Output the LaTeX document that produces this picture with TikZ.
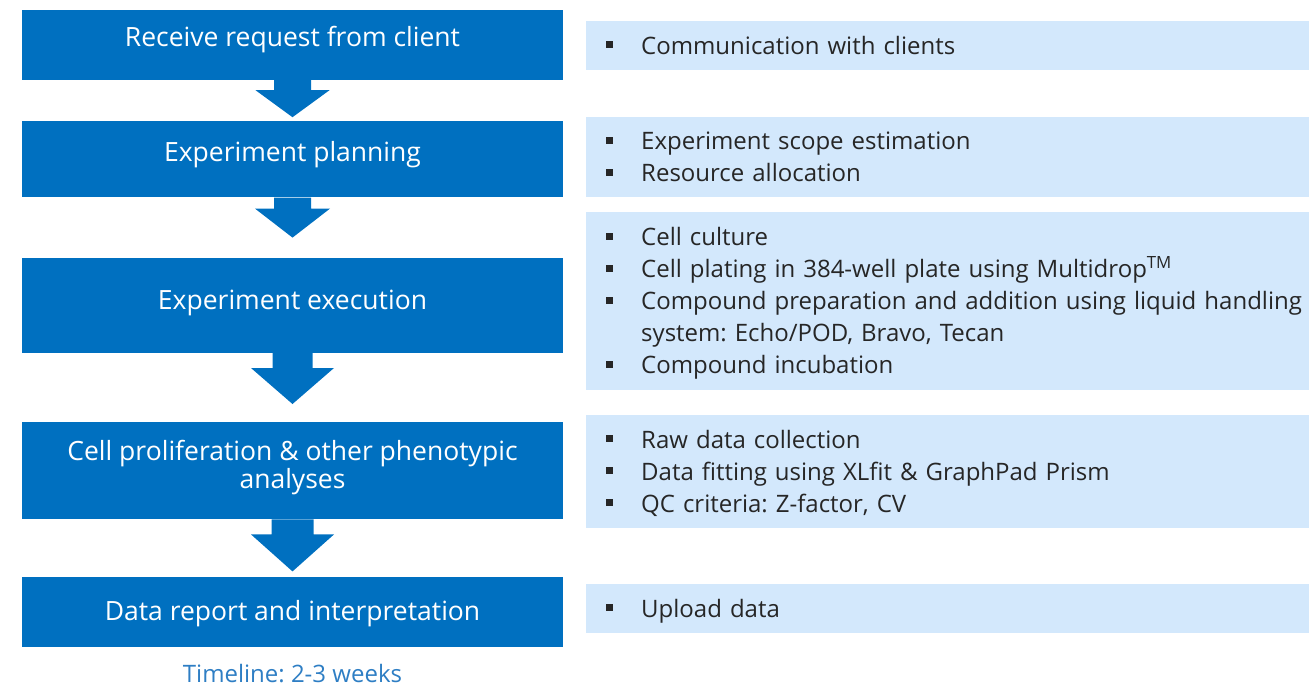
\documentclass[tikz,border=0pt]{standalone}
\usepackage{fontspec}
\setmainfont{Open Sans}
\frenchspacing
\usetikzlibrary{positioning}

\definecolor{stageblue}{RGB}{0,112,192}
\definecolor{infoblue}{RGB}{211,232,252}
\definecolor{timeblue}{RGB}{46,126,196}

\newcommand{\sqbullet}{\makebox[35pt][l]{\rule[6pt]{7pt}{7pt}}}
\newcommand{\sqindent}{\hspace*{35pt}}
\newcommand{\infostrut}{\rule[-7pt]{0pt}{31pt}}
\newcommand{\stagestrut}{\rule[-12pt]{0pt}{32pt}}

\tikzset{
  stagebox/.style={fill=stageblue, text=white, minimum width=541pt, inner sep=0pt, align=center, font=\fontsize{26.5}{28}\selectfont},
  oneline/.style={text height=20pt, text depth=#1},
  oneline/.default=12pt,
  twoline/.style={execute at begin node=\stagestrut, execute at end node=\stagestrut},
  infobox/.style={fill=infoblue, text=black!85, anchor=north west, minimum width=723pt, text width=683pt, inner xsep=20pt, inner ysep=0pt, align=left,
    font=\fontsize{24}{32}\selectfont, execute at begin node=\infostrut, execute at end node=\infostrut},
  timeline/.style={text=timeblue, inner sep=0pt, font=\fontsize{24}{28}\selectfont},
  flowarrow/.style n args={3}{fill=stageblue, to path={
    ([xshift=-#1]\tikztostart) -- ([xshift=-#1,yshift=#3]\tikztotarget) -- ([xshift=-#2,yshift=#3]\tikztotarget) -- (\tikztotarget)
    -- ([xshift=#2,yshift=#3]\tikztotarget) -- ([xshift=#1,yshift=#3]\tikztotarget) -- ([xshift=#1]\tikztostart) -- cycle}}
}

\begin{document}
\begin{tikzpicture}[x=1pt, y=-1pt]
  \useasboundingbox (0,0) rectangle (1309,686);

  % workflow stages
  \node[stagebox, oneline=17pt, minimum height=70pt] (receive) at (292.5,45) {Receive request from client};
  \node[stagebox, oneline=15pt, minimum height=76pt, below=41pt of receive] (planning) {Experiment planning};
  \node[stagebox, oneline, minimum height=95pt, below=60pt of planning] (execution) {Experiment execution};
  \node[stagebox, twoline, minimum height=97pt, below=69pt of execution] (analysis) {Cell proliferation \& other phenotypic\\analyses};
  \node[stagebox, oneline=3pt, minimum height=70pt, below=57pt of analysis] (report) {Data report and interpretation};
  \node[timeline, below=17pt of report] (timeline) {Timeline: 2-3 weeks};

  \coordinate[above=4pt of planning] (tip1);
  \coordinate[above=20pt of execution] (tip2);
  \coordinate[above=18pt of analysis] (tip3);
  \coordinate[above=5pt of report] (tip4);

  \path[flowarrow={18.5pt}{37pt}{27pt}] (receive.south) to (tip1);
  \path[flowarrow={18.5pt}{37.5pt}{29pt}] (planning.south) to (tip2);
  \path[flowarrow={20pt}{41.5pt}{36pt}] (execution.south) to (tip3);
  \path[flowarrow={21pt}{41.5pt}{37pt}] (analysis.south) to (tip4);

  % details
  \node[infobox, minimum height=49pt] (commlist) at (586,21) {\sqbullet Communication with clients};
  \node[infobox, minimum height=80pt] (planlist) at (586,117) {\sqbullet Experiment scope estimation\\
    \sqbullet Resource allocation};
  \node[infobox, minimum height=178pt] (execlist) at (586,212) {\sqbullet Cell culture\\
    \sqbullet Cell plating in 384-well plate using Multidrop\textsuperscript{TM}\\
    \mbox{\sqbullet Compound preparation and addition using liquid handling}\\
    \sqindent system: Echo/POD, Bravo, Tecan\\
    \sqbullet Compound incubation};
  \node[infobox, minimum height=113pt] (analysislist) at (586,415) {\sqbullet Raw data collection\\
    \sqbullet Data fitting using XLfit \& GraphPad Prism\\
    \sqbullet QC criteria: Z-factor, CV};
  \node[infobox, minimum height=49pt] (reportlist) at (586,584) {\sqbullet Upload data};
\end{tikzpicture}
\end{document}
